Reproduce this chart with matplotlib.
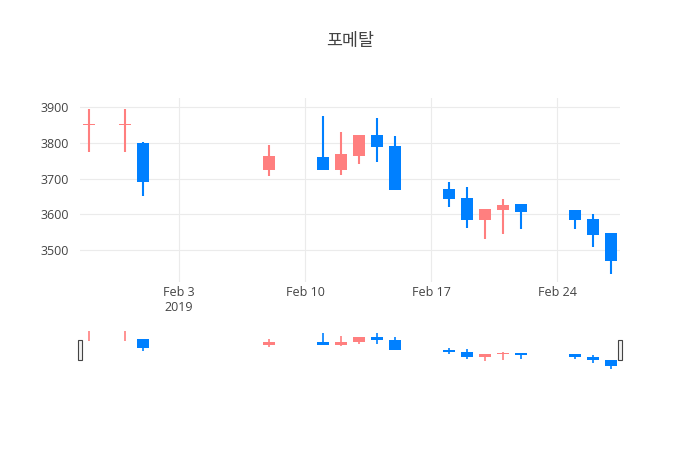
import matplotlib
matplotlib.use("Agg")
import matplotlib.pyplot as plt
import matplotlib.dates as mdates
import pandas as pd

dates = ["2019-01-29", "2019-01-31", "2019-02-01", "2019-02-08", "2019-02-11", "2019-02-12",
         "2019-02-13", "2019-02-14", "2019-02-15", "2019-02-18", "2019-02-19", "2019-02-20",
         "2019-02-21", "2019-02-22", "2019-02-25", "2019-02-26", "2019-02-27"]
opens = [3850, 3850, 3800, 3723, 3760, 3723, 3763, 3822, 3792, 3672, 3646, 3583, 3613, 3628, 3612, 3586, 3548]
highs = [3894, 3894, 3801, 3794, 3876, 3830, 3822, 3869, 3818, 3689, 3675, 3615, 3644, 3628, 3612, 3600, 3548]
lows = [3775, 3775, 3650, 3706, 3723, 3709, 3740, 3745, 3667, 3620, 3561, 3531, 3545, 3559, 3559, 3509, 3434]
closes = [3850, 3850, 3690, 3762, 3723, 3768, 3822, 3787, 3667, 3643, 3583, 3615, 3627, 3607, 3583, 3542, 3468]

UP, DOWN = "#ff7f7f", "#0080ff"
plt.rcParams["font.family"] = ["Open Sans", "Noto Sans CJK KR", "DejaVu Sans"]

x = mdates.date2num(pd.to_datetime(dates))
xmin, xmax = mdates.date2num(pd.Timestamp("2019-01-28 12:00")), mdates.date2num(pd.Timestamp("2019-02-27 12:00"))

fig = plt.figure(figsize=(7, 4.5), dpi=100)
ax = fig.add_axes([0.114, 0.373, 0.772, 0.409])
rs = fig.add_axes([0.114, 0.178, 0.772, 0.088])


def draw(a, lw):
    for xi, o, h, l, c in zip(x, opens, highs, lows, closes):
        col = UP if c >= o else DOWN
        a.vlines(xi, l, h, color=col, lw=lw, zorder=3)
        lo, hi = min(o, c), max(o, c)
        a.bar(xi, max(hi - lo, 3), bottom=lo - (1.5 if hi == lo else 0), width=0.65, color=col, zorder=3)


draw(ax, 1.5)
ax.set_xlim(xmin, xmax)
ax.set_ylim(3410, 3925)
ax.set_yticks([3500, 3600, 3700, 3800, 3900])
ticks = mdates.date2num(pd.to_datetime(["2019-02-03", "2019-02-10", "2019-02-17", "2019-02-24"]))
ax.set_xticks(ticks)
ax.set_xticklabels(["Feb 3\n2019", "Feb 10", "Feb 17", "Feb 24"])
ax.grid(color="#ebebeb", lw=0.8)
ax.set_axisbelow(True)
for s in ax.spines.values():
    s.set_visible(False)
ax.tick_params(length=0, labelsize=9, colors="#444444", pad=8)
ax.tick_params(axis="x", pad=3)

draw(rs, 1.2)
rs.set_xlim(xmin, xmax)
rs.set_ylim(3425, 3905)
rs.set_xticks([])
rs.set_yticks([])
for s in rs.spines.values():
    s.set_visible(False)
for hx in (0.0, 1.0):
    rs.add_patch(plt.Rectangle((hx - 0.004, 0.25), 0.008, 0.5, transform=rs.transAxes,
                               facecolor="#f2f2f2", edgecolor="#444444", lw=0.8, clip_on=False))

fig.text(0.5, 0.898, "포메탈", ha="center", fontsize=12.5, color="#444444",
         family=["Noto Sans CJK KR", "DejaVu Sans"])
fig.savefig("out.png")
